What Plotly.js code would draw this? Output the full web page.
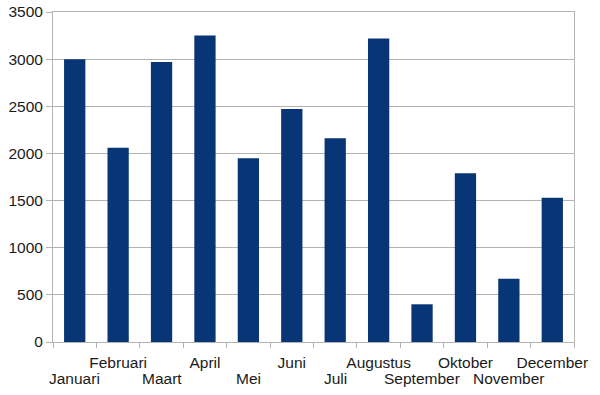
<!DOCTYPE html>
<html>
<head>
<meta charset="utf-8">
<script src="https://cdn.plot.ly/plotly-3.0.1.min.js"></script>
<style>html,body{margin:0;padding:0;background:#fff;}#chart{width:600px;height:395px;}</style>
</head>
<body>
<div id="chart"></div>
<script>
const months = ["Januari","Februari","Maart","April","Mei","Juni","Juli","Augustus","September","Oktober","November","December"];
const values = [3000, 2060, 2970, 3250, 1950, 2470, 2160, 3220, 400, 1790, 670, 1530];
const yTicks = [0, 500, 1000, 1500, 2000, 2500, 3000, 3500];

// upper row: Februari, April, ... as tick labels; lower row (Januari, Maart, ...) via annotations
const tickText = months.map((m, i) => (i % 2 === 1 ? m : ""));
const lowerRow = months.filter((m, i) => i % 2 === 0);

const trace = {
  type: "bar",
  x: months,
  y: values,
  marker: { color: "#083576", line: { width: 0 } },
  hoverinfo: "x+y"
};

const fontFam = "Liberation Sans, Arial, sans-serif";

const layout = {
  width: 600,
  height: 395,
  margin: { l: 53, r: 26, t: 12, b: 53, autoexpand: false },
  paper_bgcolor: "#ffffff",
  plot_bgcolor: "#ffffff",
  bargap: 0.51,
  showlegend: false,
  font: { family: fontFam, size: 15.5, color: "#1a1a1a" },
  xaxis: {
    type: "category",
    range: [-0.5, months.length - 0.5],
    autorange: false,
    tickmode: "array",
    tickvals: months,
    ticktext: tickText,
    tickson: "boundaries",
    ticks: "outside",
    ticklen: 5,
    tickcolor: "#b3b3b3",
    ticklabelstandoff: 6,
    showline: true,
    linecolor: "#b3b3b3",
    linewidth: 1,
    mirror: true,
    showgrid: false,
    tickangle: 0,
    automargin: false
  },
  yaxis: {
    range: [0, 3500],
    autorange: false,
    tickmode: "array",
    tickvals: yTicks,
    ticktext: yTicks.map(String),
    ticks: "outside",
    ticklen: 6,
    tickcolor: "#b3b3b3",
    showline: true,
    linecolor: "#b3b3b3",
    linewidth: 1,
    mirror: true,
    showgrid: true,
    gridcolor: "#b3b3b3",
    gridwidth: 1,
    zeroline: false,
    automargin: false
  },
  annotations: lowerRow.map(m => ({
    x: m,
    xref: "x",
    y: 0,
    yref: "paper",
    yanchor: "top",
    xanchor: "center",
    yshift: -26,
    showarrow: false,
    text: m,
    font: { family: fontFam, size: 15.5, color: "#1a1a1a" }
  }))
};

Plotly.newPlot("chart", [trace], layout, { staticPlot: true, displayModeBar: false });
</script>
</body>
</html>
